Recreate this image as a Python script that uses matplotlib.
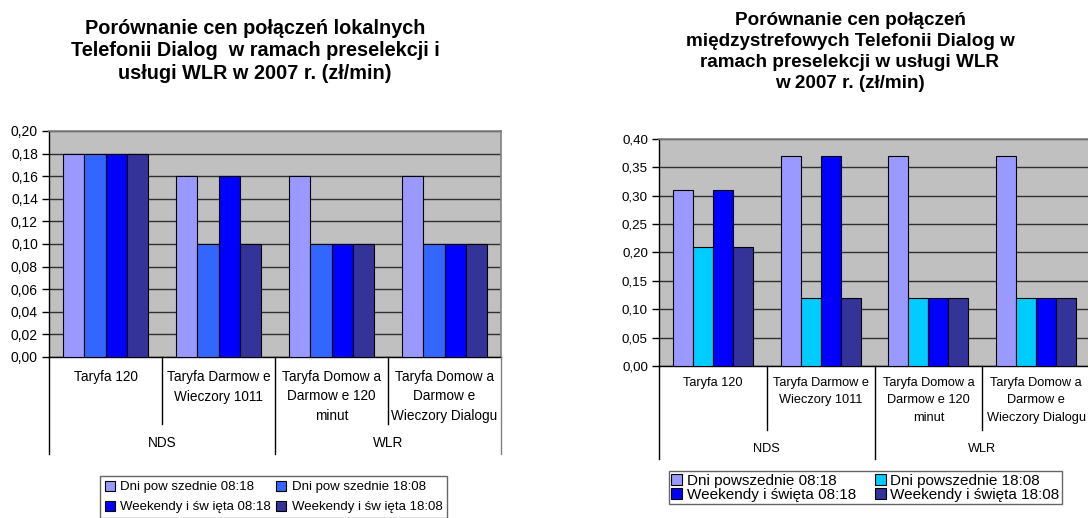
import matplotlib
matplotlib.use("Agg")
import matplotlib.pyplot as plt
from matplotlib.patches import Patch
import matplotlib.transforms as mtransforms

plt.rcParams['font.family'] = ['Liberation Sans', 'DejaVu Sans']

# ---------------- data ----------------
categories_left = ["Taryfa 120", "Taryfa Darmow e\nWieczory 1011",
                   "Taryfa Domow a\nDarmow e 120\nminut",
                   "Taryfa Domow a\nDarmow e\nWieczory Dialogu"]
categories_right = ["Taryfa 120", "Taryfa Darmow e\nWieczory 1011",
                    "Taryfa Domow a\nDarmow e 120\nminut",
                    "Taryfa Domow a\nDarmow e\nWieczory Dialogu"]
groups = ["NDS", "WLR"]

series_left_names = ["Dni pow szednie 08:18", "Dni pow szednie 18:08",
                     "Weekendy i św ięta 08:18", "Weekendy i św ięta 18:08"]
left_dni_0818 = [0.18, 0.16, 0.16, 0.16]
left_dni_1808 = [0.18, 0.10, 0.10, 0.10]
left_wk_0818 = [0.18, 0.16, 0.10, 0.10]
left_wk_1808 = [0.18, 0.10, 0.10, 0.10]

series_right_names = ["Dni powszednie 08:18", "Dni powszednie 18:08",
                      "Weekendy i święta 08:18", "Weekendy i święta 18:08"]
right_dni_0818 = [0.31, 0.37, 0.37, 0.37]
right_dni_1808 = [0.21, 0.12, 0.12, 0.12]
right_wk_0818 = [0.31, 0.37, 0.12, 0.12]
right_wk_1808 = [0.21, 0.12, 0.12, 0.12]

left_ticks = [0.00, 0.02, 0.04, 0.06, 0.08, 0.10, 0.12, 0.14, 0.16, 0.18, 0.20]
right_ticks = [0.00, 0.05, 0.10, 0.15, 0.20, 0.25, 0.30, 0.35, 0.40]

title_left = "Porównanie cen połączeń lokalnych\nTelefonii Dialog  w ramach preselekcji i\nusługi WLR w 2007 r. (zł/min)"
title_right = "Porównanie cen połączeń\nmiędzystrefowych Telefonii Dialog w\nramach preselekcji w usługi WLR\nw 2007 r. (zł/min)"

colors_left = ["#9999FF", "#3366FF", "#0000FF", "#333399"]
colors_right = ["#9999FF", "#00CCFF", "#0000FF", "#333399"]

W, H = 1088, 518
fig = plt.figure(figsize=(W / 100, H / 100), dpi=100)


def px_axes(x0, y_top, x1, y_bot):
    return fig.add_axes([x0 / W, 1 - y_bot / H, (x1 - x0) / W, (y_bot - y_top) / H])


def draw_chart(ax, series, colors, ticks, ymax, cats, y_cat, y_short, y_long, y_grp,
               tick_fs, cat_fs, cat_ls):
    ax.set_facecolor("#C0C0C0")
    n = len(series)
    bw = 0.186
    for i, vals in enumerate(series):
        xs = [c + (i - (n - 1) / 2) * bw for c in range(len(vals))]
        ax.bar(xs, vals, width=bw, color=colors[i], edgecolor="black",
               linewidth=0.8, zorder=3)
    ax.set_xlim(-0.5, len(cats) - 0.5)
    ax.set_ylim(0, ymax)
    ax.set_yticks(ticks)
    ax.set_yticklabels([f"{t:.2f}".replace(".", ",") for t in ticks], fontsize=tick_fs)
    ax.yaxis.grid(True, color="#303030", linewidth=1.0, zorder=1)
    ax.set_axisbelow(True)
    ax.set_xticks([])
    ax.tick_params(axis="y", direction="out", length=5, width=1, color="black", pad=3)
    for s in ["top", "right"]:
        ax.spines[s].set_color("#808080")
        ax.spines[s].set_linewidth(1.2)
    ax.spines["left"].set_color("black")
    ax.spines["bottom"].set_color("black")
    ax.spines["left"].set_linewidth(1.0)
    ax.spines["bottom"].set_linewidth(1.0)
    trans = mtransforms.blended_transform_factory(ax.transData, ax.transAxes)
    for c, lab in enumerate(cats):
        ax.text(c, y_cat, lab, transform=trans, ha="center", va="top",
                fontsize=cat_fs, linespacing=cat_ls, clip_on=False)
    ncat = len(cats)
    for b in range(ncat + 1):
        xb = b - 0.5
        long = (b % 2 == 0)
        yb = y_long if long else y_short
        col = "black"
        if b == ncat:
            col = "#808080"
        ax.plot([xb, xb], [0, yb], transform=trans, color=col, linewidth=1.0,
                clip_on=False, zorder=5)
    for g, lab in enumerate(groups):
        ax.text(2 * g + 0.5, y_grp, lab, transform=trans, ha="center", va="center",
                fontsize=cat_fs, clip_on=False)


# left chart
axL = px_axes(49, 131, 501, 357)
draw_chart(axL, [left_dni_0818, left_dni_1808, left_wk_0818, left_wk_1808],
           colors_left, left_ticks, 0.20, categories_left,
           y_cat=-(370 - 357) / 226, y_short=-(424 - 357) / 226,
           y_long=-(454 - 357) / 226, y_grp=-(443 - 357) / 226,
           tick_fs=10, cat_fs=9.8, cat_ls=1.5)

# right chart
axR = px_axes(659, 139, 1090, 366)
draw_chart(axR, [right_dni_0818, right_dni_1808, right_wk_0818, right_wk_1808],
           colors_right, right_ticks, 0.40, categories_right,
           y_cat=-(377 - 366) / 227, y_short=-(430 - 366) / 227,
           y_long=-(459 - 366) / 227, y_grp=-(449 - 366) / 227,
           tick_fs=9.6, cat_fs=9.2, cat_ls=1.6)

# titles
fig.text(255 / W, 1 - 51 / H, title_left, ha="center", va="center",
         fontsize=14.3, fontweight="bold", linespacing=1.22)
fig.text(850 / W, 1 - 52 / H, title_right, ha="center", va="center",
         fontsize=13.6, fontweight="bold", linespacing=1.3)

# legends (row-major order like the reference)
order = [0, 2, 1, 3]
hL = [Patch(facecolor=c, edgecolor="black", linewidth=0.8) for c in colors_left]
legL = fig.legend([hL[i] for i in order], [series_left_names[i] for i in order],
                  loc="lower left",
                  bbox_to_anchor=(100 / W, 1 - 518 / H, (447 - 100) / W, (518 - 472) / H),
                  ncol=2, fontsize=9.5, frameon=True, fancybox=False,
                  edgecolor="#404040", borderpad=0.35, handlelength=0.8,
                  handleheight=0.8, handletextpad=0.4, columnspacing=0.8,
                  labelspacing=0.55, borderaxespad=0, mode="expand")
legL.get_frame().set_linewidth(1.0)

hR = [Patch(facecolor=c, edgecolor="black", linewidth=0.8) for c in colors_right]
legR = fig.legend([hR[i] for i in order], [series_right_names[i] for i in order],
                  loc="lower left",
                  bbox_to_anchor=(669 / W, 1 - 504 / H, (1062 - 669) / W, (504 - 466) / H),
                  ncol=2, fontsize=11, frameon=True, fancybox=False,
                  edgecolor="#404040", borderpad=0.15, handlelength=0.7,
                  handleheight=0.7, handletextpad=0.3, columnspacing=0.6,
                  labelspacing=0.0, borderaxespad=0, mode="expand")
legR.get_frame().set_linewidth(1.0)

fig.savefig("out.png", dpi=100, facecolor="white")
